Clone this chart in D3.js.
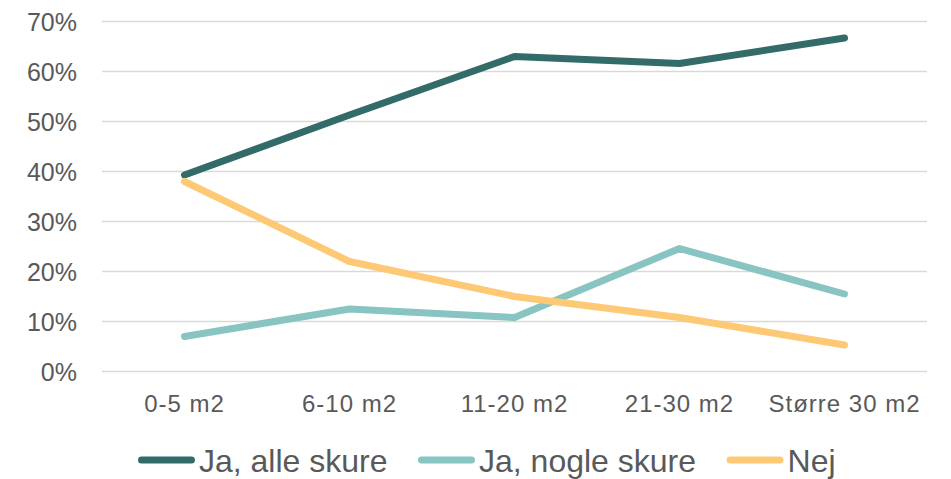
<!DOCTYPE html>
<html>
<head>
<meta charset="utf-8">
<script src="https://cdn.jsdelivr.net/npm/d3@7"></script>
<style>
  body { margin: 0; background: #fff; }
  text { font-family: "Liberation Sans", Arial, sans-serif; fill: #595959; }
</style>
</head>
<body>
<script>
// chart data
var categories = ["0-5 m2", "6-10 m2", "11-20 m2", "21-30 m2", "Større 30 m2"];
var seriesNames = ["Ja, alle skure", "Ja, nogle skure", "Nej"];
var jaAlle = [0.392, 0.512, 0.629, 0.615, 0.666];
var jaNogle = [0.069, 0.124, 0.107, 0.245, 0.154];
var nej = [0.379, 0.219, 0.149, 0.107, 0.052];
var yTicks = [0, 0.1, 0.2, 0.3, 0.4, 0.5, 0.6, 0.7];
var colours = ["#336b69", "#88c4c2", "#fdc975"];

var width = 951, height = 479;
var plot = { left: 102, right: 927, top: 21, bottom: 371 };

var svg = d3.select("body").append("svg")
  .attr("width", width)
  .attr("height", height);

var x = d3.scaleBand()
  .domain(categories)
  .range([plot.left, plot.right]);

var y = d3.scaleLinear()
  .domain([0, 0.7])
  .range([plot.bottom, plot.top]);

// gridlines + y labels
var yAxis = svg.append("g")
  .attr("transform", "translate(" + plot.left + ",0)")
  .call(d3.axisLeft(y)
    .tickValues(yTicks)
    .tickFormat(d3.format(".0%"))
    .tickSize(-(plot.right - plot.left))
    .tickPadding(25));
yAxis.select(".domain").remove();
yAxis.selectAll(".tick line")
  .attr("stroke", "#d9d9d9")
  .attr("stroke-width", 1.5);
yAxis.selectAll(".tick text")
  .style("font-size", "25px")
  .attr("fill", "#595959")
  .attr("dy", "0.36em");

// x labels
var xAxis = svg.append("g")
  .attr("transform", "translate(0," + plot.bottom + ")")
  .call(d3.axisBottom(x).tickSize(0).tickPadding(0));
xAxis.select(".domain").remove();
xAxis.selectAll(".tick text")
  .attr("y", 41)
  .attr("dy", 0)
  .attr("fill", "#595959")
  .style("font-size", "24px")
  .style("letter-spacing", "1px");

// lines
var series = seriesNames.map(function(name, i) {
  return { name: name, values: [jaAlle, jaNogle, nej][i], colour: colours[i] };
});

var line = d3.line()
  .x(function(d, i) { return x(categories[i]) + x.bandwidth() / 2; })
  .y(function(d) { return y(d); });

svg.selectAll(".series")
  .data(series)
  .enter().append("path")
  .attr("class", "series")
  .attr("d", function(d) { return line(d.values); })
  .attr("fill", "none")
  .attr("stroke", function(d) { return d.colour; })
  .attr("stroke-width", 7)
  .attr("stroke-linecap", "round")
  .attr("stroke-linejoin", "round");

// legend
var legend = svg.append("g");
var item = legend.selectAll(".item")
  .data(series)
  .enter().append("g")
  .attr("class", "item");

item.append("line")
  .attr("x1", 3.5).attr("x2", 53.5)
  .attr("y1", 0).attr("y2", 0)
  .attr("stroke", function(d) { return d.colour; })
  .attr("stroke-width", 7)
  .attr("stroke-linecap", "round");

item.append("text")
  .attr("x", 61)
  .attr("y", 11.5)
  .style("font-size", "32px")
  .text(function(d) { return d.name; });

var gap = 34;
var offset = 0;
item.each(function() {
  var w = this.getBBox().width;
  d3.select(this).attr("transform", "translate(" + offset + ",0)");
  offset += w + gap;
});
var total = offset - gap;
legend.attr("transform", "translate(" + (485 - total / 2) + ",460)");
</script>
</body>
</html>
